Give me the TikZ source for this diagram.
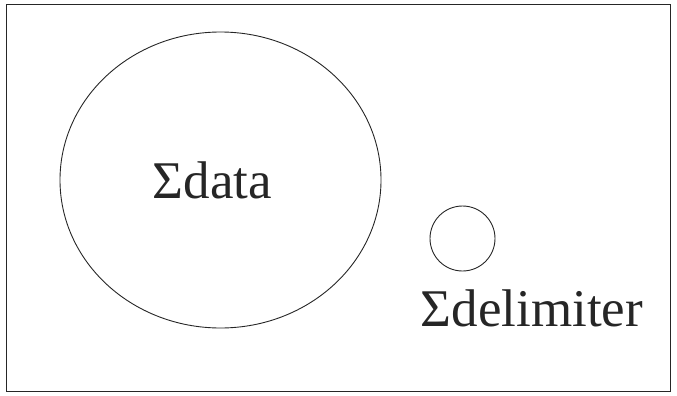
\documentclass[tikz,border=0pt]{standalone}
\usepackage{fontspec}
\setmainfont{Liberation Serif}
\usetikzlibrary{shapes.geometric}
\tikzset{
  outline/.style={draw=black!85, line width=0.9pt},
  lbl/.style={anchor=base, inner sep=0pt, font=\fontsize{53}{60}\selectfont, text=black!85}
}
\begin{document}
\begin{tikzpicture}[x=1pt,y=-1pt]
\useasboundingbox (0,0) rectangle (677,396);
\node[outline, rectangle, minimum width=664pt, minimum height=387pt, inner sep=0pt] (frame) at (338,197.5) {};
\node[outline, ellipse, minimum width=321pt, minimum height=296pt, inner sep=0pt] (big) at (220.5,180) {};
\node[outline, circle, minimum size=65pt, inner sep=0pt] (small) at (462.5,238.5) {};
\node[lbl] (data) at (212.5,198) {Σdata};
\node[lbl] (delim) at (532,326) {Σdelimiter};
\end{tikzpicture}
\end{document}
